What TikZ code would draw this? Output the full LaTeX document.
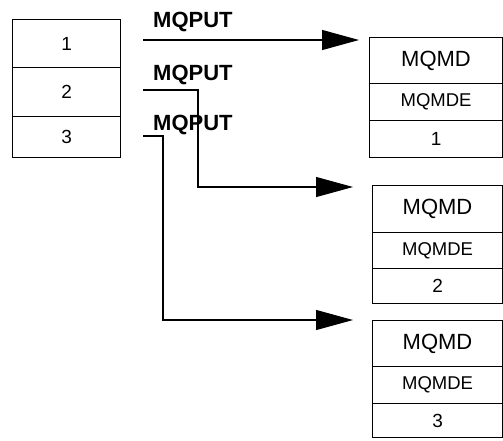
\documentclass[tikz,border=0pt]{standalone}
\usepackage{fontspec}
\setmainfont{Liberation Sans}
\usetikzlibrary{arrows.meta,calc}
\begin{document}
\begin{tikzpicture}[x=1pt,y=-1pt,
  cell/.style={draw, line width=1.1pt, inner sep=0pt, anchor=north west, align=center},
  big/.style={font=\fontsize{22}{24}\selectfont},
  mid/.style={font=\fontsize{18.5}{21}\selectfont},
  dig/.style={font=\fontsize{19}{21}\selectfont},
  conn/.style={line width=1.1pt},
  arr/.style={conn, -{Triangle[length=37pt,width=20pt]}},
  lbl/.style={font=\fontsize{22}{24}\selectfont\bfseries, anchor=base west, inner sep=0pt}]
\useasboundingbox (0,0) rectangle (503,440);
% left box
\node[cell, dig, minimum width=108pt, minimum height=48pt] (L1) at (12,19) {1};
\node[cell, dig, minimum width=108pt, minimum height=49pt] (L2) at (12,67) {2};
\node[cell, dig, minimum width=108pt, minimum height=41pt] (L3) at (12,116) {3};
% right box 1
\node[cell, big, minimum width=133pt, minimum height=46pt] (A1) at (369,37) {MQMD};
\node[cell, mid, minimum width=133pt, minimum height=37pt] (B1) at (369,83) {MQMDE};
\node[cell, dig, minimum width=133pt, minimum height=37pt] (C1) at (369,120) {1};
% right box 2
\node[cell, big, minimum width=130pt, minimum height=47pt] (A2) at (372,185) {MQMD};
\node[cell, mid, minimum width=130pt, minimum height=36pt] (B2) at (372,232) {MQMDE};
\node[cell, dig, minimum width=130pt, minimum height=35pt] (C2) at (372,268) {2};
% right box 3
\node[cell, big, minimum width=130pt, minimum height=46pt] (A3) at (372,320) {MQMD};
\node[cell, mid, minimum width=130pt, minimum height=37pt] (B3) at (372,366) {MQMDE};
\node[cell, dig, minimum width=130pt, minimum height=34pt] (C3) at (372,403) {3};
% labels
\node[lbl] (P1) at (153,27) {MQPUT};
\node[lbl] (P2) at (153,80) {MQPUT};
\node[lbl] (P3) at (153,130) {MQPUT};
% connectors
\coordinate (s1) at (143,40);
\coordinate (t1) at (359,40);
\coordinate (s2) at (143,90);
\coordinate (k2) at (198,90);
\coordinate (t2) at (353,187);
\coordinate (s3) at (143,136);
\coordinate (k3) at (163,136);
\coordinate (t3) at (353,320);
\draw[arr] (s1) -- (t1);
\draw[arr] (s2) -- (k2) |- (t2);
\draw[arr] (s3) -- (k3) |- (t3);
\end{tikzpicture}
\end{document}
